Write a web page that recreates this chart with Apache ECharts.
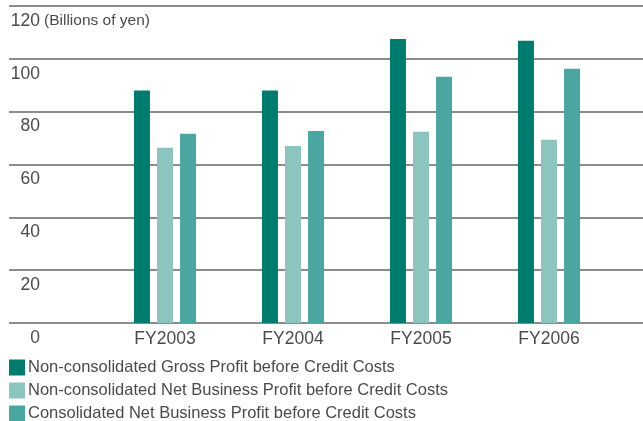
<!DOCTYPE html>
<html>
<head>
<meta charset="utf-8">
<script src="https://cdn.jsdelivr.net/npm/echarts@6/dist/echarts.min.js"></script>
<style>
  html, body { margin: 0; padding: 0; background: #fff; }
  #chart { width: 643px; height: 421px; }
</style>
</head>
<body>
<div id="chart"></div>
<script>
// Fiscal years and profit figures (billions of yen)
const categories = ['FY2003', 'FY2004', 'FY2005', 'FY2006'];
const grossProfit = [88.0, 88.0, 107.5, 106.8];
const netBusinessProfit = [66.3, 67.0, 72.4, 69.4];
const consolidatedNetProfit = [71.6, 72.7, 93.2, 96.2];
const yTicks = [0, 20, 40, 60, 80, 100, 120];

const seriesNames = [
  'Non-consolidated Gross Profit before Credit Costs',
  'Non-consolidated Net Business Profit before Credit Costs',
  'Consolidated Net Business Profit before Credit Costs'
];
const colors = ['#007c6f', '#8cc5bf', '#4aa6a1'];

const FONT = '"Liberation Sans", Arial, sans-serif';
const TEXT = '#4a4a4a';

const chart = echarts.init(document.getElementById('chart'), null, { renderer: 'canvas' });

const plotTop = 6, plotBottom = 421 - 323;

// one single-entry legend per row so each row sits at a fixed height
const legendRows = seriesNames.map(function (name, i) {
  return {
    orient: 'vertical', left: 9, top: 359 + i * 23, padding: 0,
    itemWidth: 16, itemHeight: 16, icon: 'rect',
    textStyle: { color: TEXT, fontSize: 16.5, fontFamily: FONT, padding: [0, 0, 0, -2] },
    data: [name]
  };
});

chart.setOption({
  animation: false,
  color: colors,
  textStyle: { fontFamily: FONT },
  grid: [
    // full-width grid that carries the horizontal rules and value labels
    { left: 9, right: 0, top: plotTop, bottom: plotBottom, containLabel: false },
    // narrower grid holding the bars
    { left: 101, width: 512, top: plotTop, bottom: plotBottom, containLabel: false }
  ],
  xAxis: [
    { type: 'value', gridIndex: 0, show: false, min: 0, max: 1 },
    {
      type: 'category', gridIndex: 1, data: categories,
      axisLine: { show: false }, axisTick: { show: false },
      axisLabel: { color: TEXT, fontSize: 17.5, fontFamily: FONT, margin: 7 }
    }
  ],
  yAxis: [
    {
      type: 'value', gridIndex: 0, min: 0, max: 120, interval: 20,
      axisLine: { show: false }, axisTick: { show: false },
      splitLine: { show: true, lineStyle: { color: '#666', width: 1.5 } },
      axisLabel: {
        inside: true, color: TEXT, fontSize: 17.5, fontFamily: FONT,
        verticalAlign: 'top', align: 'right', margin: 31, padding: [6, 0, 0, 0],
        formatter: function (v) {
          if (yTicks.indexOf(v) < 0) return '';
          return String(v);
        }
      }
    },
    { type: 'value', gridIndex: 1, min: 0, max: 120, interval: 20, show: false, splitLine: { show: false } }
  ],
  legend: legendRows,
  graphic: [{
    type: 'text', left: 44, top: 13,
    style: { text: '(Billions of yen)', fill: TEXT, fontSize: 15.5, fontFamily: FONT }
  }],
  series: [
    { name: seriesNames[0], type: 'bar', xAxisIndex: 1, yAxisIndex: 1, data: grossProfit, barWidth: 16, barGap: '44%' },
    { name: seriesNames[1], type: 'bar', xAxisIndex: 1, yAxisIndex: 1, data: netBusinessProfit, barWidth: 16, barGap: '44%' },
    { name: seriesNames[2], type: 'bar', xAxisIndex: 1, yAxisIndex: 1, data: consolidatedNetProfit, barWidth: 16, barGap: '44%' }
  ]
});
</script>
</body>
</html>
